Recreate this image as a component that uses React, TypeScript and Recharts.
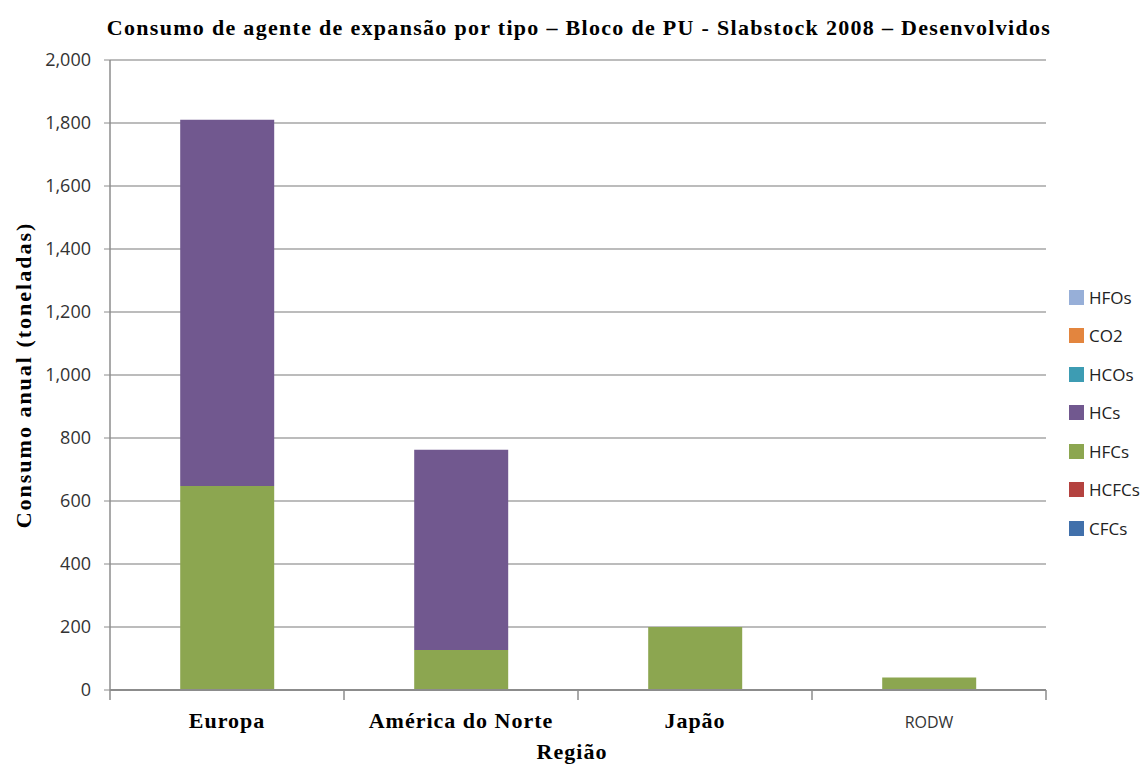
import { Bar, BarChart, CartesianGrid, XAxis, YAxis } from "recharts";

const regions = ["Europa", "América do Norte", "Japão", "RODW"];
const cfcs = [0, 0, 0, 0];
const hcfcs = [0, 0, 0, 0];
const hfcs = [648, 127, 200, 40];
const hcs = [1162, 636, 0, 0];
const hcos = [0, 0, 0, 0];
const co2 = [0, 0, 0, 0];
const hfos = [0, 0, 0, 0];
const yTicks = [0, 200, 400, 600, 800, 1000, 1200, 1400, 1600, 1800, 2000];

const series = [
  { key: "CFCs", values: cfcs, color: "#4170ab" },
  { key: "HCFCs", values: hcfcs, color: "#b4423f" },
  { key: "HFCs", values: hfcs, color: "#8ca650" },
  { key: "HCs", values: hcs, color: "#71588f" },
  { key: "HCOs", values: hcos, color: "#3d9cb3" },
  { key: "CO2", values: co2, color: "#e3853e" },
  { key: "HFOs", values: hfos, color: "#97afd8" },
];

const data = regions.map((region, i) => {
  const row: Record<string, string | number> = { region };
  series.forEach((s) => (row[s.key] = s.values[i]));
  return row;
});

const serif = "'Liberation Serif', 'Times New Roman', serif";
const sans = "'Open Sans', sans-serif";

function RegionTick(props: any) {
  const { x, y, payload, index } = props;
  const half = payload?.offset || 117;
  const isSans = payload.value === "RODW";
  return (
    <g>
      <line x1={x - half} y1={y - 8} x2={x - half} y2={y + 2} stroke="#8c8c8c" strokeWidth={1.5} />
      {index === regions.length - 1 && (
        <line x1={x + half} y1={y - 8} x2={x + half} y2={y + 2} stroke="#8c8c8c" strokeWidth={1.5} />
      )}
      <text
        x={x}
        y={y + 30}
        textAnchor="middle"
        fill={isSans ? "#333" : "#000"}
        fontFamily={isSans ? sans : serif}
        fontWeight={isSans ? 400 : 700}
        fontSize={isSans ? 16 : 22}
        letterSpacing={isSans ? 0 : 1}
      >
        {payload.value}
      </text>
    </g>
  );
}

export default function App() {
  return (
    <div style={{ position: "absolute", left: 0, top: 0, width: 1148, height: 765, background: "#fff" }}>
      <div
        style={{
          position: "absolute",
          left: 105,
          top: 14,
          width: 948,
          textAlign: "center",
          fontFamily: serif,
          fontWeight: 700,
          fontSize: 22,
          letterSpacing: 1.3,
          lineHeight: "28px",
          whiteSpace: "nowrap",
        }}
      >
        Consumo de agente de expansão por tipo – Bloco de PU - Slabstock 2008 – Desenvolvidos
      </div>
      <BarChart
        width={1148}
        height={765}
        data={data}
        margin={{ top: 60, right: 102, bottom: 45, left: 10 }}
        barCategoryGap="30%"
      >
        <CartesianGrid vertical={false} stroke="#a6a6a6" strokeWidth={1.5} />
        <XAxis
          dataKey="region"
          axisLine={{ stroke: "#8c8c8c", strokeWidth: 2 }}
          tickLine={false}
          tick={<RegionTick />}
          interval={0}
        />
        <YAxis
          width={100}
          domain={[0, 2000]}
          ticks={yTicks}
          interval={0}
          axisLine={{ stroke: "#8c8c8c", strokeWidth: 1.5 }}
          tickLine={{ stroke: "#8c8c8c" }}
          tickSize={6}
          tickMargin={13}
          tickFormatter={(v: number) => v.toLocaleString("en-US")}
          tick={{ fill: "#333", fontFamily: sans, fontSize: 18 }}
        />
        {series.map((s) => (
          <Bar key={s.key} dataKey={s.key} stackId="a" fill={s.color} isAnimationActive={false} />
        ))}
      </BarChart>
      <div
        style={{
          position: "absolute",
          left: 24,
          top: 375,
          transform: "translate(-50%, -50%) rotate(-90deg)",
          fontFamily: serif,
          fontWeight: 700,
          fontSize: 22,
          letterSpacing: 2,
          whiteSpace: "nowrap",
        }}
      >
        Consumo anual (toneladas)
      </div>
      <div
        style={{
          position: "absolute",
          left: 572,
          top: 752,
          transform: "translate(-50%, -50%)",
          fontFamily: serif,
          fontWeight: 700,
          fontSize: 22,
          letterSpacing: 1,
        }}
      >
        Região
      </div>
      <div style={{ position: "absolute", left: 1069, top: 278 }}>
        {[...series].reverse().map((s) => (
          <div key={s.key} style={{ display: "flex", alignItems: "center", height: 38.5 }}>
            <span style={{ width: 15, height: 15, background: s.color, marginRight: 5 }} />
            <span style={{ fontFamily: sans, fontSize: 17, color: "#222" }}>{s.key}</span>
          </div>
        ))}
      </div>
    </div>
  );
}
